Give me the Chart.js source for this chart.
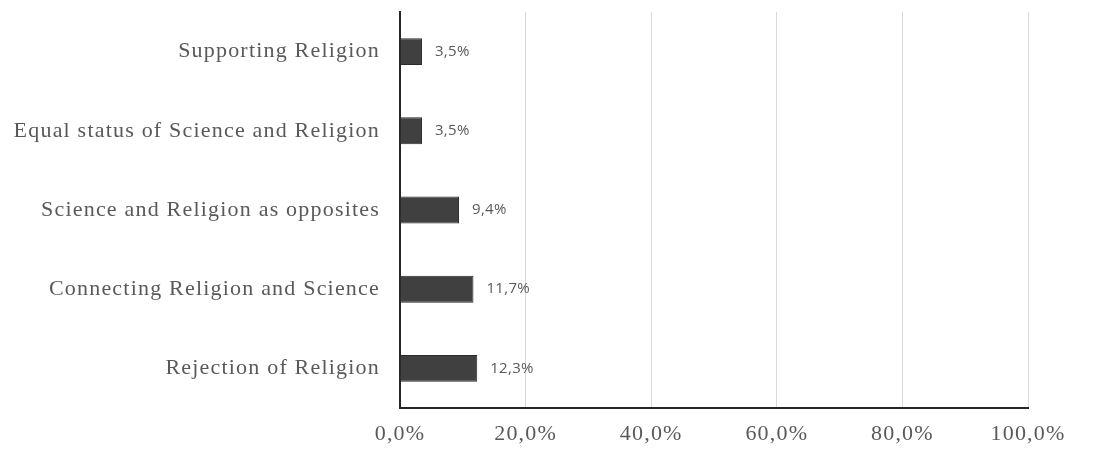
<!DOCTYPE html>
<html>
<head>
<meta charset="utf-8">
<script src="https://cdn.jsdelivr.net/npm/chart.js@4/dist/chart.umd.min.js"></script>
<style>
  html, body { margin: 0; padding: 0; background: #fff; }
  #wrap { width: 1096px; height: 453px; }
</style>
</head>
<body>
<div id="wrap"><canvas id="chart" width="1096" height="453"></canvas></div>
<script>
const categories = [
    'Supporting Religion',
    'Equal status of Science and Religion',
    'Science and Religion as opposites',
    'Connecting Religion and Science',
    'Rejection of Religion'
];
const percentages = [3.5, 3.5, 9.4, 11.7, 12.3];
const tickValues = [0, 20, 40, 60, 80, 100];

const fmt = v => v.toFixed(1).replace('.', ',') + '%';

// the source text is a bit stretched, so space the axis letters out a little
const spacing = {
    id: 'spacing',
    beforeUpdate(chart) { chart.ctx.letterSpacing = '1.2px'; },
    beforeDraw(chart) { chart.ctx.letterSpacing = '1.2px'; }
};

// value labels right of each bar
const valueLabels = {
    id: 'valueLabels',
    afterDatasetsDraw(chart) {
        const ctx = chart.ctx;
        const meta = chart.getDatasetMeta(0);
        ctx.save();
        ctx.letterSpacing = '0.3px';
        ctx.font = '15px "Open Sans", "DejaVu Sans", sans-serif';
        ctx.fillStyle = '#595959';
        ctx.textAlign = 'left';
        ctx.textBaseline = 'middle';
        meta.data.forEach((bar, i) => {
            ctx.fillText(fmt(percentages[i]), bar.x + 13, bar.y);
        });
        ctx.restore();
    }
};

const ctx = document.getElementById('chart').getContext('2d');
const myChart = new Chart(ctx, {
    type: 'bar',
    data: {
        labels: categories,
        datasets: [{
            data: percentages,
            backgroundColor: '#404040',
            borderColor: '#2a2a2a',
            borderWidth: 1,
            barPercentage: 0.85,
            categoryPercentage: 0.4
        }]
    },
    options: {
        indexAxis: 'y',
        responsive: false,
        animation: false,
        layout: {
            padding: { left: 0, right: 68, top: 12, bottom: 0 }
        },
        plugins: {
            legend: { display: false },
            tooltip: { enabled: false }
        },
        scales: {
            x: {
                min: 0,
                max: 100,
                afterBuildTicks: scale => {
                    scale.ticks = tickValues.map(v => ({ value: v }));
                },
                afterFit: scale => { scale.height = 45; },
                grid: {
                    color: '#d9d9d9',
                    lineWidth: 1,
                    drawTicks: false
                },
                border: { color: '#262626', width: 2 },
                ticks: {
                    padding: 13,
                    color: '#595959',
                    font: { family: '"Liberation Serif", serif', size: 22 },
                    callback: v => fmt(v)
                }
            },
            y: {
                afterFit: scale => {
                    scale.width = 400;
                    scale.paddingTop = 0;
                    scale.paddingBottom = 0;
                },
                grid: { display: false, drawTicks: false },
                border: { color: '#262626', width: 2 },
                ticks: {
                    padding: 20,
                    color: '#595959',
                    font: { family: '"Liberation Serif", serif', size: 22 }
                }
            }
        }
    },
    plugins: [spacing, valueLabels]
});
</script>
</body>
</html>
